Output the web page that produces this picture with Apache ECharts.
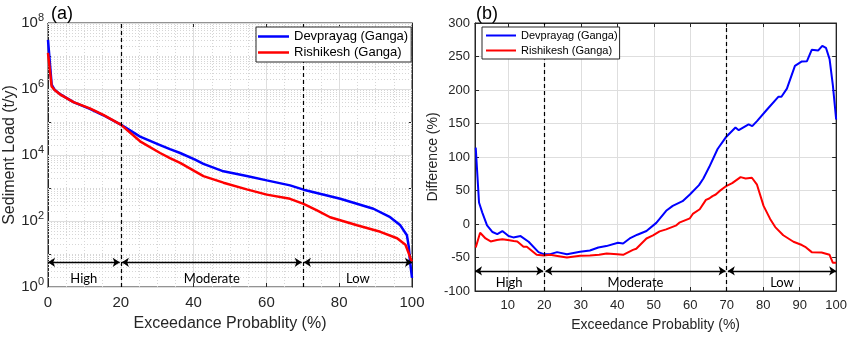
<!DOCTYPE html>
<html>
<head>
<meta charset="utf-8">
<script src="https://cdn.jsdelivr.net/npm/echarts@6/dist/echarts.min.js"></script>
<style>html,body{margin:0;padding:0;background:#fff;}#c{width:850px;height:337px;}</style>
</head>
<body>
<div id="c"></div>
<script>
// ---------- data ----------
const seriesNames = ['Devprayag (Ganga)', 'Rishikesh (Ganga)'];
// (a) sediment load (t/y) vs exceedance probability (%)
const devLoad = [[0,3.1e7],[1,1.35e6],[1.8,9.5e5],[3.3,7e5],[7,4e5],[11.5,2.5e5],[15.2,1.6e5],[20,8.3e4],[25.3,3.6e4],[30.8,2.0e4],[33.5,1.5e4],[36.3,1.15e4],[40.4,7.2e3],[42.7,5.4e3],[48.2,3.2e3],[54.6,2.3e3],[60.1,1.7e3],[66.5,1.2e3],[70.2,890],[80.3,470],[89.4,235],[94,130],[96.8,74],[98.6,37],[99.1,17],[99.5,5.4],[100,1.9]];
const rishLoad = [[0,1.25e7],[1,1.2e6],[1.8,9.3e5],[3.3,6.9e5],[7,4e5],[11.5,2.6e5],[15.2,1.65e5],[20,8.3e4],[25.3,2.6e4],[30.8,1.15e4],[33.5,8.1e3],[36.3,5.8e3],[40.4,3.2e3],[42.7,2.3e3],[48.2,1.45e3],[54.6,910],[60.1,630],[66.5,470],[70.2,330],[73.9,210],[77.5,130],[84.9,74],[91.3,47],[95.9,30],[98.2,19],[99.1,10.5],[99.7,6.8],[100,6]];
// (b) difference (%) vs exceedance probability (%)
const devDiff = [[1.2,114],[2.1,32],[3.0,17],[4.3,-2],[5.8,-12],[7.1,-15],[8.5,-10.5],[10.2,-18],[11.5,-20],[13.5,-18],[15.7,-26.5],[18.4,-42],[19.8,-45],[21.6,-45],[23.5,-42],[26.2,-45],[29.8,-41.5],[32.5,-39.5],[34.8,-35],[37,-33],[40.2,-28],[41.6,-29],[43.4,-21.6],[45.5,-16],[48,-10.5],[50.7,1.7],[53.4,19.7],[55.2,27],[57.9,34],[59.9,44],[62.4,58],[63.6,68],[65.2,85],[67.5,112],[69.7,129],[72.4,144],[73.3,140],[76,148.6],[77,146],[78.3,153.6],[81,170.5],[84.2,190],[85,190],[86.5,202],[88.7,236],[90.6,242.6],[92,243],[93.3,260],[95.1,259],[96.2,266],[97.2,263],[98.2,246],[99.1,207],[100,156]];
const rishDiff = [[1.2,-35],[2.4,-13],[3.9,-21.6],[5.3,-26],[7,-24],[8.5,-22.6],[10,-24],[11.6,-25.5],[12.6,-26],[14.3,-33.8],[15.2,-34],[17.9,-46],[19.8,-47],[21.6,-46],[24,-48],[26.2,-50],[29.8,-47.4],[32.5,-47],[35,-46],[37.1,-44],[40,-45],[41.6,-46],[44.3,-38.7],[45.2,-37],[48,-21.6],[49.8,-17],[51.6,-11],[53.4,-8],[56.2,-2],[57,2],[59.9,8.5],[60.7,15],[62.6,22],[64.3,36],[65.2,38],[66.1,41.6],[67,44],[68,49],[69.7,56],[71.5,61],[73.8,70],[75.2,68],[76.9,69],[78.3,58.7],[80.1,27],[81.9,7.6],[83.3,-4.6],[85.5,-16.8],[88.3,-26.5],[90.6,-31.4],[91.5,-34],[93.3,-42],[96,-42.6],[98.2,-46],[99.1,-58],[100,-58]];
// regime boundaries and labels
const regimeBounds = [20, 70];
const regimeNames = ['High', 'Moderate', 'Low'];
const regimeSpansA = [[0,19.7],[20.3,69.7],[70.3,100]];
const regimeSpansB = [[1,19.7],[20.3,69.7],[70.3,100]];
const arrowLevelA = 5.6;
const arrowLevelB = -70;
const xTicksB = [10,20,30,40,50,60,70,80,90,100];

// ---------- chart ----------
const FONT = 'Liberation Sans';
const AX = '#262626';
const BLUE = '#0000ff', RED = '#ff0000';
const chart = echarts.init(document.getElementById('c'));

// log grid values for (a): solid at even decades, dotted elsewhere
const majorLog = [], minorLog = [];
for (let e = 0; e <= 8; e++) {
  if (e % 2 === 0) majorLog.push(Math.pow(10, e)); else minorLog.push(Math.pow(10, e));
  if (e < 8) for (let k = 2; k <= 9; k++) minorLog.push(k * Math.pow(10, e));
}
const minorX = [];
for (let v = 5; v < 100; v += 5) if (v % 20 !== 0) minorX.push(v);

function regimeLines(bounds) {
  return bounds.map(v => ({ xAxis: v }));
}
function arrows(spans, level) {
  return spans.map((s, i) => [
    { coord: [s[0], level], name: regimeNames[i] },
    { coord: [s[1], level] }
  ]);
}

const grid0 = { left: 48, top: 23, width: 364, height: 268 };
const grid1 = { left: 475, top: 23, width: 363, height: 274 };

const option = {
  animation: false,
  backgroundColor: '#fff',
  textStyle: { fontFamily: FONT },
  title: [
    { text: '(a)', left: 46, top: 0, textStyle: { fontFamily: FONT, fontSize: 18, fontWeight: 'normal', color: '#000' } },
    { text: '(b)', left: 471, top: 0, textStyle: { fontFamily: FONT, fontSize: 18, fontWeight: 'normal', color: '#000' } }
  ],
  grid: [
    Object.assign({ show: true, borderColor: AX, borderWidth: 1, backgroundColor: 'transparent' }, grid0),
    Object.assign({ show: true, borderColor: AX, borderWidth: 1, backgroundColor: 'transparent' }, grid1)
  ],
  legend: [
    { data: seriesNames, orient: 'vertical', left: 256, top: 27, icon: 'rect', itemWidth: 31, itemHeight: 2.5, itemGap: 3, z: 10,
      padding: [3, 3, 3, 2], borderColor: AX, borderWidth: 1, backgroundColor: '#fff',
      textStyle: { fontFamily: FONT, fontSize: 13, color: '#000' } },
    { data: seriesNames, orient: 'vertical', left: 482, top: 27, icon: 'rect', itemWidth: 30, itemHeight: 2, itemGap: 4, z: 10,
      padding: [3, 2, 3, 4], borderColor: AX, borderWidth: 1, backgroundColor: '#fff',
      textStyle: { fontFamily: FONT, fontSize: 11, color: '#000' } }
  ],
  xAxis: [
    { gridIndex: 0, type: 'value', min: 0, max: 100, interval: 20, position: 'bottom',
      name: 'Exceedance Probablity (%)', nameLocation: 'middle', nameGap: 29,
      nameTextStyle: { fontFamily: FONT, fontSize: 16, color: AX },
      axisLine: { show: true, onZero: false, lineStyle: { color: AX } },
      axisTick: { show: true, inside: true, length: 4, lineStyle: { color: AX } },
      axisLabel: { fontFamily: FONT, fontSize: 15, color: AX, margin: 8 },
      splitLine: { show: true, lineStyle: { color: '#dedede' } } },
    { gridIndex: 0, type: 'value', min: 0, max: 100, interval: 20, position: 'top',
      axisLine: { show: true, onZero: false, lineStyle: { color: AX } },
      axisTick: { show: true, inside: true, length: 4, lineStyle: { color: AX } },
      axisLabel: { show: false }, splitLine: { show: false } },
    { gridIndex: 1, type: 'value', min: 1, max: 100, position: 'bottom',
      name: 'Exceedance Probablity (%)', nameLocation: 'middle', nameGap: 27,
      nameTextStyle: { fontFamily: FONT, fontSize: 14, color: AX },
      axisLine: { show: true, onZero: false, lineStyle: { color: AX } },
      axisTick: { show: true, inside: true, length: 4, customValues: xTicksB, lineStyle: { color: AX } },
      axisLabel: { fontFamily: FONT, fontSize: 13, color: AX, margin: 8, customValues: xTicksB },
      splitLine: { show: true, lineStyle: { color: '#dedede' } } },
    { gridIndex: 1, type: 'value', min: 1, max: 100, position: 'top',
      axisLine: { show: true, onZero: false, lineStyle: { color: AX } },
      axisTick: { show: true, inside: true, length: 4, customValues: xTicksB, lineStyle: { color: AX } },
      axisLabel: { show: false, customValues: xTicksB }, splitLine: { show: false } }
  ],
  yAxis: [
    { gridIndex: 0, type: 'log', logBase: 10, min: 1, max: 1e8, splitNumber: 8, position: 'left',
      name: 'Sediment Load (t/y)', nameLocation: 'middle', nameGap: 25,
      nameTextStyle: { fontFamily: FONT, fontSize: 16, color: AX },
      axisLine: { show: true, onZero: false, lineStyle: { color: AX } },
      axisTick: { show: true, inside: true, length: 4, lineStyle: { color: AX } },
      axisLabel: { fontFamily: FONT, fontSize: 15, color: AX, margin: 4, lineHeight: 22,
        formatter: v => { const e = Math.round(Math.log10(v)); return e % 2 === 0 ? '10{s|' + e + '}' : ''; },
        rich: { s: { fontFamily: FONT, fontSize: 11, color: AX, verticalAlign: 'top', lineHeight: 14 } } },
      splitLine: { show: false } },
    { gridIndex: 0, type: 'log', logBase: 10, min: 1, max: 1e8, splitNumber: 8, position: 'right',
      axisLine: { show: true, onZero: false, lineStyle: { color: AX } },
      axisTick: { show: true, inside: true, length: 4, lineStyle: { color: AX } },
      axisLabel: { show: false }, splitLine: { show: false } },
    { gridIndex: 1, type: 'value', min: -100, max: 300, interval: 50, position: 'left',
      name: 'Difference (%)', nameLocation: 'middle', nameGap: 27,
      nameTextStyle: { fontFamily: FONT, fontSize: 14, color: AX },
      axisLine: { show: true, onZero: false, lineStyle: { color: AX } },
      axisTick: { show: true, inside: true, length: 4, lineStyle: { color: AX } },
      axisLabel: { fontFamily: FONT, fontSize: 13, color: AX, margin: 5 },
      splitLine: { show: true, lineStyle: { color: '#dedede' } } },
    { gridIndex: 1, type: 'value', min: -100, max: 300, interval: 50, position: 'right',
      axisLine: { show: true, onZero: false, lineStyle: { color: AX } },
      axisTick: { show: true, inside: true, length: 4, lineStyle: { color: AX } },
      axisLabel: { show: false }, splitLine: { show: false } }
  ],
  series: [
    // helper: log grid for (a), drawn beneath the curves
    { type: 'line', xAxisIndex: 0, yAxisIndex: 0, data: [], silent: true, z: 1,
      markLine: { silent: true, z: 1, symbol: 'none', label: { show: false },
        lineStyle: { color: '#d6d6d6', type: [1, 2], width: 1 },
        data: minorLog.map(v => ({ yAxis: v })).concat(minorX.map(v => ({ xAxis: v }))) } },
    { type: 'line', xAxisIndex: 0, yAxisIndex: 0, data: [], silent: true, z: 1,
      markLine: { silent: true, z: 1, symbol: 'none', label: { show: false },
        lineStyle: { color: '#dedede', type: 'solid', width: 1 },
        data: majorLog.map(v => ({ yAxis: v })) } },
    { name: seriesNames[0], type: 'line', xAxisIndex: 0, yAxisIndex: 0, data: devLoad,
      symbol: 'none', lineStyle: { color: BLUE, width: 2.5 }, itemStyle: { color: BLUE }, z: 3 },
    { name: seriesNames[1], type: 'line', xAxisIndex: 0, yAxisIndex: 0, data: rishLoad,
      symbol: 'none', lineStyle: { color: RED, width: 2.5 }, itemStyle: { color: RED }, z: 4,
      markLine: { silent: true, symbol: ['none', 'none'], label: { show: false },
        lineStyle: { color: '#000', type: [4, 3], width: 1.2 }, data: regimeLines(regimeBounds) } },
    // arrows (a)
    { type: 'line', xAxisIndex: 0, yAxisIndex: 0, data: [], silent: true, z: 5,
      markLine: { silent: true, symbol: ['arrow', 'arrow'], symbolSize: 7,
        lineStyle: { color: '#000', type: 'solid', width: 1.3 },
        label: { show: true, position: 'insideMiddleBottom', formatter: '{b}', distance: 10,
          fontFamily: 'Lato', fontSize: 13, color: '#000' },
        data: arrows(regimeSpansA, arrowLevelA) } },
    { name: seriesNames[0], type: 'line', xAxisIndex: 2, yAxisIndex: 2, data: devDiff,
      symbol: 'none', lineStyle: { color: BLUE, width: 2 }, itemStyle: { color: BLUE }, z: 3 },
    { name: seriesNames[1], type: 'line', xAxisIndex: 2, yAxisIndex: 2, data: rishDiff,
      symbol: 'none', lineStyle: { color: RED, width: 2 }, itemStyle: { color: RED }, z: 4,
      markLine: { silent: true, symbol: ['none', 'none'], label: { show: false },
        lineStyle: { color: '#000', type: [4, 3], width: 1.2 }, data: regimeLines(regimeBounds) } },
    { type: 'line', xAxisIndex: 2, yAxisIndex: 2, data: [], silent: true, z: 5,
      markLine: { silent: true, symbol: ['arrow', 'arrow'], symbolSize: 7,
        lineStyle: { color: '#000', type: 'solid', width: 1.3 },
        label: { show: true, position: 'insideMiddleBottom', formatter: '{b}', distance: 5,
          fontFamily: 'Lato', fontSize: 13, color: '#000' },
        data: arrows(regimeSpansB, arrowLevelB) } }
  ]
};
chart.setOption(option);
</script>
</body>
</html>
